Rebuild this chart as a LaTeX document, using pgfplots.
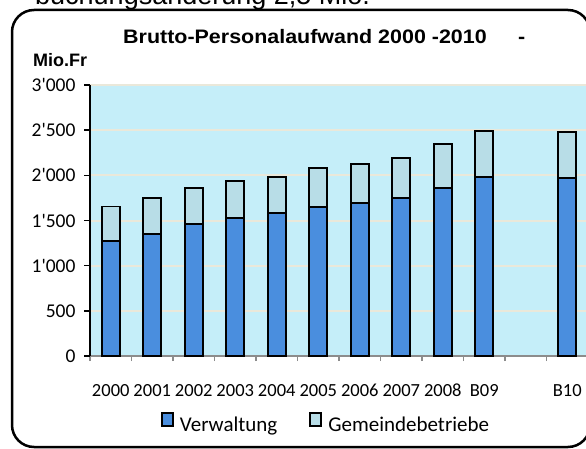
\documentclass[border=0pt]{standalone}
\usepackage{pgfplots}
\pgfplotsset{compat=1.18}
\usepackage{fontspec}
\setmainfont{Carlito}
\newfontfamily\calfont{Carlito}
\newfontfamily\arialfont{Liberation Sans}
\newfontfamily\titlefont[FakeStretch=1.1]{Liberation Sans}
\definecolor{bgblue}{HTML}{C5EEF9}
\definecolor{gridcol}{HTML}{EAE8DA}
\definecolor{verw}{HTML}{4A8EDE}
\definecolor{gemb}{HTML}{B8DDE7}
\definecolor{axgray}{HTML}{8C8C8C}
\pgfplotstableread{
x V G
0 1275 380
1 1354 398
2 1461 395
3 1524 413
4 1580 405
5 1653 432
6 1690 432
7 1745 451
8 1856 491
9 1985 509
11 1967 509
}\datatable
\begin{document}
\begin{tikzpicture}[x=1pt,y=1pt]
\useasboundingbox (0,0) rectangle (586,448);
\clip (0,0) rectangle (586,448);
\fill[white] (0,0) rectangle (586,448);
\node[anchor=base west, inner sep=0, font=\arialfont\fontsize{27}{30}\selectfont] at (35,443) {buchungsänderung 2,5 Mio.};
\draw[line width=2.5pt, rounded corners=22pt] (12,1) rectangle (590,438);
\node[anchor=base west, inner sep=0, font=\titlefont\bfseries\fontsize{19.5}{22}\selectfont] at (123,404) {Brutto-Personalaufwand 2000 -2010};
\node[anchor=base west, inner sep=0, font=\titlefont\bfseries\fontsize{19.5}{22}\selectfont] at (518,404) {-};
\node[anchor=base west, inner sep=0, font=\arialfont\bfseries\fontsize{18}{20}\selectfont] at (33,381) {Mio.Fr};
\begin{axis}[
  at={(90pt,92pt)}, anchor=south west,
  scale only axis, width=498pt, height=271pt,
  xmin=-0.5, xmax=11.5, ymin=0, ymax=3000,
  ybar stacked, bar width=18pt,
  axis x line*=bottom, axis y line*=left,
  x axis line style={draw=axgray, line width=1.8pt},
  y axis line style={draw=black, line width=1.6pt},
  tick align=outside,
  xtick={0,1,2,3,4,5,6,7,8,9,11},
  xticklabels={2000,2001,2002,2003,2004,2005,2006,2007,2008,B09,B10},
  major x tick style={draw=none},
  minor xtick={-0.5,0.5,1.5,2.5,3.5,4.5,5.5,6.5,7.5,8.5,9.5,10.5,11.5},
  minor x tick style={draw=axgray, line width=1.5pt},
  minor tick length=5pt,
  major tick length=6pt,
  ytick={0,500,1000,1500,2000,2500,3000},
  yticklabels={0,500,1'000,1'500,2'000,2'500,3'000},
  major y tick style={draw=black, line width=1.5pt},
  ymajorgrids, major grid style={draw=gridcol, line width=2pt},
  axis background/.style={fill=bgblue},
  yticklabel style={font=\calfont\fontsize{19.5}{20}\selectfont, xshift=-5pt},
  xticklabel style={font=\calfont\fontsize{18.5}{19}\selectfont, anchor=base, yshift=-34pt},
  legend style={at={(0.474,-0.25)}, anchor=center, draw=none, fill=none,
    font=\calfont\fontsize{21}{22}\selectfont,
    /tikz/every even column/.append style={column sep=30pt}},
  legend columns=2,
  clip=false,
]
\addplot[fill=verw, draw=black, line width=1.9pt,
  legend image code/.code={\draw[fill=verw, draw=black, line width=1.9pt] (0pt,-1pt) rectangle (11pt,12pt); \path[draw=none, fill=none] (11pt,0pt) -- (16pt,0pt);}]
  table[x=x, y=V] {\datatable};
\addplot[fill=gemb, draw=black, line width=1.9pt,
  legend image code/.code={\draw[fill=gemb, draw=black, line width=1.9pt] (0pt,-1pt) rectangle (11pt,12pt); \path[draw=none, fill=none] (11pt,0pt) -- (16pt,0pt);}]
  table[x=x, y=G] {\datatable};
\legend{Verwaltung,Gemeindebetriebe}
\end{axis}
\end{tikzpicture}
\end{document}
